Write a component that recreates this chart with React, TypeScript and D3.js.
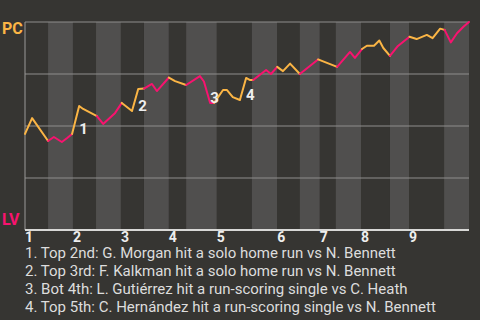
import React from "react";
import * as d3 from "d3";

// Inning labels
const innings = ["1", "2", "3", "4", "5", "6", "7", "8", "9"];
// Start of each half-inning on the game-progress axis (0-100); even index = top, odd = bottom
const halfStarts = [0, 5.2, 10.8, 16.0, 21.6, 26.8, 32.4, 36.3, 43.2, 51.1, 56.8, 61.9, 66.4, 70.0, 75.7, 82.2, 86.5, 94.4];
const progressEnd = 100;

// Game progress of each play and PC win probability after it
const progress = [
  0.0, 1.6, 5.2, 6.5, 8.3, 9.5, 10.6, 12.2, 13.1, 16.2,
  17.6, 20.3, 21.8, 24.1, 25.5, 26.8, 28.6, 29.7, 32.4, 33.8,
  36.3, 39.4, 40.3, 41.7, 42.6, 44.6, 45.5, 46.8, 48.4, 49.8,
  50.7, 51.4, 54.3, 55.4, 56.8, 58.1, 59.7, 61.9, 66.0, 70.3,
  73.2, 74.3, 75.9, 77.0, 78.6, 79.8, 80.7, 82.2, 84.0, 86.6,
  88.2, 90.5, 91.8, 93.5, 94.5, 95.9, 97.3, 98.8, 100.0,
];
const pcWinProb = [
  0.462, 0.538, 0.428, 0.447, 0.423, 0.442, 0.462, 0.596, 0.582, 0.548,
  0.510, 0.563, 0.611, 0.572, 0.678, 0.680, 0.702, 0.668, 0.733, 0.716,
  0.697, 0.740, 0.714, 0.611, 0.611, 0.673, 0.673, 0.639, 0.625, 0.731,
  0.721, 0.721, 0.769, 0.750, 0.784, 0.764, 0.800, 0.750, 0.820, 0.784,
  0.856, 0.827, 0.870, 0.886, 0.886, 0.911, 0.875, 0.837, 0.885, 0.929,
  0.918, 0.938, 0.922, 0.968, 0.962, 0.902, 0.946, 0.978, 1.0,
];

// Key plays: index of the play in the arrays above, and the note text
const keyPlayIndex = [7, 14, 23, 29];
const keyPlayNotes = [
  "1. Top 2nd: G. Morgan hit a solo home run vs N. Bennett",
  "2. Top 3rd: F. Kalkman hit a solo home run vs N. Bennett",
  "3. Bot 4th: L. Gutiérrez hit a run-scoring single vs C. Heath",
  "4. Top 5th: C. Hernández hit a run-scoring single vs N. Bennett",
];

const teams = ["PC", "LV"];
const gridValues = [0.25, 0.5, 0.75, 1.0];

const W = 480;
const H = 320;
const BG = "#363532";
const STRIPE = "#504f4e";
const ORANGE = "#fbb545";
const PINK = "#f8136f";
const FONT = "Roboto, 'Noto Sans', sans-serif";

export default function App() {
  const x = d3.scaleLinear().domain([0, progressEnd]).range([25, 469]);
  const y = d3.scaleLinear().domain([0, 1]).range([230, 22]);

  const halfEnds = halfStarts.slice(1).concat([progressEnd]);

  const halfOf = (p: number) => {
    let k = 0;
    for (let i = 0; i < halfStarts.length; i++) if (p >= halfStarts[i]) k = i;
    return k;
  };

  // Build runs of same-colored segments
  const pts = progress.map((p, i) => [p, pcWinProb[i]] as [number, number]);
  const runs: { color: string; pts: [number, number][] }[] = [];
  for (let i = 1; i < pts.length; i++) {
    const mid = (pts[i - 1][0] + pts[i][0]) / 2;
    const color = halfOf(mid) % 2 === 0 ? ORANGE : PINK;
    const last = runs[runs.length - 1];
    if (last && last.color === color) last.pts.push(pts[i]);
    else runs.push({ color, pts: [pts[i - 1], pts[i]] });
  }
  const line = d3
    .line<[number, number]>()
    .x((d) => x(d[0]))
    .y((d) => y(d[1]));

  return (
    <div style={{ position: "absolute", left: 0, top: 0, width: W, height: H }}>
      <svg width={W} height={H} style={{ display: "block", background: BG }}>
        <rect x={0} y={0} width={W} height={H} fill={BG} />
        {halfStarts.map((s, i) => (
          <rect
            key={"h" + i}
            x={x(s)}
            y={y(1)}
            width={x(halfEnds[i]) - x(s)}
            height={y(0) - y(1)}
            fill={i % 2 === 0 ? BG : STRIPE}
          />
        ))}
        {gridValues.map((g) => (
          <line key={"g" + g} x1={x(0)} x2={x(progressEnd)} y1={y(g)} y2={y(g)} stroke="#8e8e8c" strokeWidth={1} />
        ))}
        <line x1={x(0)} x2={x(0)} y1={y(1)} y2={y(0)} stroke="#9a9a98" strokeWidth={1} />
        <line x1={x(0)} x2={x(progressEnd)} y1={y(0)} y2={y(0)} stroke="#d8d8d6" strokeWidth={2} />
        {runs.map((r, i) => (
          <path
            key={"r" + i}
            d={line(r.pts) || ""}
            fill="none"
            stroke={r.color}
            strokeWidth={2}
            strokeLinejoin="round"
            strokeLinecap="round"
          />
        ))}
        {keyPlayIndex.map((idx, i) => (
          <text
            key={"k" + i}
            x={x(progress[idx])}
            y={y(Math.min(pcWinProb[idx - 1], pcWinProb[idx]))}
            fill="#eeeeee"
            fontFamily={FONT}
            fontWeight="bold"
            fontSize={15}
          >
            {String(i + 1)}
          </text>
        ))}
        {innings.map((inn, i) => (
          <text
            key={"i" + i}
            x={x(halfStarts[i * 2])}
            y={242}
            fill="#eeeeee"
            fontFamily={FONT}
            fontWeight="bold"
            fontSize={14}
          >
            {inn}
          </text>
        ))}
        <text x={2} y={34} fill={ORANGE} fontFamily={FONT} fontWeight="bold" fontSize={16}>
          {teams[0]}
        </text>
        <text x={2} y={225} fill={PINK} fontFamily={FONT} fontWeight="bold" fontSize={16}>
          {teams[1]}
        </text>
        {keyPlayNotes.map((t, i) => (
          <text
            key={"n" + i}
            x={25}
            y={258 + i * 18}
            fill="#dddddd"
            fontFamily={FONT}
            fontSize={15}
          >
            {t}
          </text>
        ))}
      </svg>
    </div>
  );
}
